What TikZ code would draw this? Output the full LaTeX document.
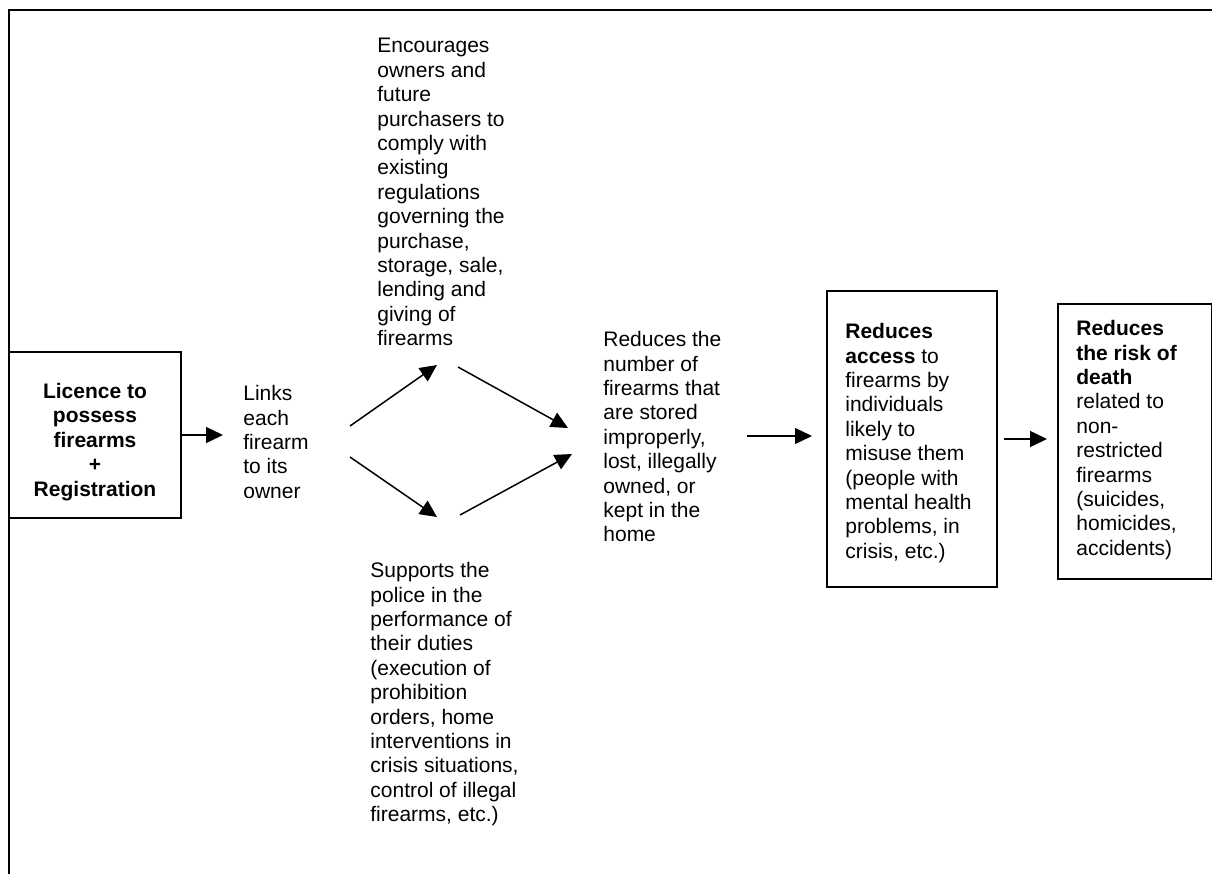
\documentclass[tikz,border=0pt]{standalone}
\usepackage{fontspec}
\setmainfont{Liberation Sans}
\usetikzlibrary{arrows.meta, positioning}
\tikzset{
  every node/.style={font=\fontsize{10.5}{12.2}\selectfont},
  txt/.style={anchor=north west, inner sep=0pt, align=left},
  box/.style={draw, line width=0.75pt},
  arr/.style={-{Triangle[length=8.5pt,width=8pt]}, line width=0.75pt},
}

\begin{document}
\begin{tikzpicture}[x=0.5pt, y=-0.5pt]
      \useasboundingbox (0,0) rectangle (1212,874);
      % frame
      \draw[line width=1pt] (9,874) -- (9,10) -- (1212,10);

      \node[box, minimum width=86pt, minimum height=83pt] (licbox) at (95,435) {};
      \node[align=center, inner sep=0pt] (lic) at (95,442)
        {\textbf{Licence to}\\ \textbf{possess}\\ \textbf{firearms}\\ \textbf{+}\\ \textbf{Registration}};
      \node[txt] (links) at (243,385) {Links\\ each\\ firearm\\ to its\\ owner};
      \node[txt] (enc) at (377,38) {Encourages\\ owners and\\ future\\ purchasers to\\ comply with\\ existing\\ regulations\\ governing the\\ purchase,\\ storage, sale,\\ lending and\\ giving of\\ firearms};
      \node[txt] (sup) at (370,562) {Supports the\\ police in the\\ performance of\\ their duties\\ (execution of\\ prohibition\\ orders, home\\ interventions in\\ crisis situations,\\ control of illegal\\ firearms, etc.)};
      \node[txt] (red) at (603,331) {Reduces the\\ number of\\ firearms that\\ are stored\\ improperly,\\ lost, illegally\\ owned, or\\ kept in the\\ home};
      \node[box, anchor=north west, minimum width=85pt, minimum height=148pt] (accbox) at (826,290) {};
      \node[txt] (acc) at (845,323) {\textbf{Reduces}\\ \textbf{access} to\\ firearms by\\ individuals\\ likely to\\ misuse them\\ (people with\\ mental health\\ problems, in\\ crisis, etc.)};
      \node[box, anchor=north west, minimum width=77pt, minimum height=137.5pt] (riskbox) at (1057,303) {};
      \node[txt] (risk) at (1076,320) {\textbf{Reduces}\\ \textbf{the risk of}\\ \textbf{death}\\ related to\\ non-\\ restricted\\ firearms\\ (suicides,\\ homicides,\\ accidents)};

      \coordinate (linksIn)  at (223,435);
      \coordinate (linkUp)   at (350,426);
      \coordinate (encIn)    at (437,365);
      \coordinate (encOut)   at (458,367);
      \coordinate (redUp)    at (568,428);
      \coordinate (linkDown) at (350,457);
      \coordinate (supIn)    at (437,517);
      \coordinate (supOut)   at (460,515);
      \coordinate (redDown)  at (572,454);
      \coordinate (redOut)   at (747,436);
      \coordinate (accIn)    at (812,436);
      \coordinate (accOut)   at (1004,439);
      \coordinate (riskIn)   at (1047,439);

      \draw[arr] (licbox.east) -- (linksIn);
      \draw[arr] (linkUp)   -- (encIn);
      \draw[arr] (encOut)   -- (redUp);
      \draw[arr] (linkDown) -- (supIn);
      \draw[arr] (supOut)   -- (redDown);
      \draw[arr] (redOut)   -- (accIn);
      \draw[arr] (accOut)   -- (riskIn);
    \end{tikzpicture}
\end{document}
